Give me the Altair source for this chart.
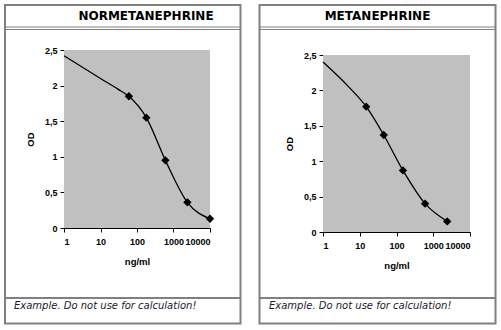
import altair as alt
import pandas as pd

# ---- data ----
norm_conc = [60, 180, 600, 2400, 10000]
norm_od = [1.85, 1.55, 0.95, 0.36, 0.13]
norm_curve_conc = [1, 10, 30, 60, 180, 600, 2400, 10000]
norm_curve_od = [2.42, 2.10, 1.95, 1.85, 1.55, 0.95, 0.36, 0.13]

meta_conc = [15, 45, 150, 600, 2400]
meta_od = [1.77, 1.37, 0.87, 0.40, 0.15]
meta_curve_conc = [1, 5, 15, 45, 150, 600, 2400]
meta_curve_od = [2.40, 2.05, 1.77, 1.37, 0.87, 0.40, 0.15]

x_ticks = [1, 10, 100, 1000, 10000]
y_ticks = [0, 0.5, 1, 1.5, 2, 2.5]
titles = ["NORMETANEPHRINE", "METANEPHRINE"]
footer = "Example. Do not use for calculation!"

AXFONT = "Arial"
BORDER = "#808080"


def panel(conc, od, cconc, cod, title, w, h, yrange, frame, title_x, foot_x, canvas=False):
    pts = pd.DataFrame({"conc": conc, "od": od})
    cur = pd.DataFrame({"conc": cconc, "od": cod})
    one = pd.DataFrame({"a": [0]})
    xs = alt.Scale(type="log", domain=[1, 10000])
    ys = alt.Scale(domain=[0, 2.5], range=yrange)
    xax = alt.Axis(values=x_ticks, format="d", title="ng/ml", titlePadding=10, labelPadding=5,
                   labelOverlap=False, labelBound=False)
    yax = alt.Axis(values=y_ticks, labelExpr="replace(toString(datum.value), '.', ',')",
                   title="OD", titlePadding=9, labelPadding=3, labelOverlap=False)

    bg = alt.Chart(one).mark_rect(color="#c0c0c0").encode(
        x=alt.datum(1, type="quantitative", scale=xs, axis=xax),
        x2=alt.datum(10000),
        y=alt.datum(0, type="quantitative", scale=ys, axis=yax),
        y2=alt.datum(2.5),
    )
    line = alt.Chart(cur).mark_line(color="black", strokeWidth=1.3, interpolate="monotone").encode(
        x=alt.X("conc:Q", scale=xs, axis=xax),
        y=alt.Y("od:Q", scale=ys, axis=yax),
    )
    dots = alt.Chart(pts).mark_point(shape="diamond", filled=True, color="black", size=70, opacity=1).encode(
        x=alt.X("conc:Q", scale=xs, axis=xax),
        y=alt.Y("od:Q", scale=ys, axis=yax),
    )
    fl, fr, ft, fb, sep1, sep2, fsep = frame
    outer = alt.Chart(one).mark_rect(fillOpacity=0, stroke=BORDER, strokeWidth=2).encode(
        x=alt.value(fl), x2=alt.value(fr), y=alt.value(ft), y2=alt.value(fb))
    s1 = alt.Chart(one).mark_rule(color=BORDER, strokeWidth=1).encode(
        x=alt.value(fl), x2=alt.value(fr), y=alt.value(sep1))
    s2 = alt.Chart(one).mark_rule(color=BORDER, strokeWidth=1).encode(
        x=alt.value(fl), x2=alt.value(fr), y=alt.value(sep2))
    s3 = alt.Chart(one).mark_rule(color=BORDER, strokeWidth=2).encode(
        x=alt.value(fl), x2=alt.value(fr), y=alt.value(fsep))
    ttl = alt.Chart(one).mark_text(font="DejaVu Sans", fontWeight="bold", fontSize=12,
                                   align="center", baseline="middle", color="black").encode(
        x=alt.value(title_x), y=alt.value(-34), text=alt.value(title))
    ft_ = alt.Chart(one).mark_text(font="DejaVu Sans", fontStyle="italic", fontSize=10,
                                   align="left", baseline="middle", color="#1a1a2e").encode(
        x=alt.value(foot_x), y=alt.value(256), text=alt.value(footer))
    layers = [bg, line, dots, outer, s1, s2, s3, ttl, ft_]
    if canvas:
        cv = alt.Chart(one).mark_rect(opacity=0).encode(
            x=alt.value(-64), x2=alt.value(437), y=alt.value(-50), y2=alt.value(280))
        layers.append(cv)
    return alt.layer(*layers).properties(width=w, height=h)


left = panel(norm_conc, norm_od, norm_curve_conc, norm_curve_od, titles[0], 146, 178, [178, 0],
             (-59, 176.5, -45, 273.5, -23, -20.5, 248), 82, -50, canvas=True)
right = panel(meta_conc, meta_od, meta_curve_conc, meta_curve_od, titles[1], 147, 182, [182, 5],
              (-63.5, 172.5, -45, 273.5, -23, -20.5, 248), 54.5, -54)

chart = alt.hconcat(left, right, spacing=113, bounds="flush").properties(
    padding=0, background="white"
).configure_view(stroke=None, fill=None).configure_axis(
    grid=False, domainColor="black", tickColor="black", tickSize=4, domainWidth=1,
    labelFont=AXFONT, labelFontWeight="bold", labelFontSize=9, labelColor="black",
    titleFont=AXFONT, titleFontWeight="bold", titleFontSize=9.5, titleColor="black",
)

chart.save("out.html", embed_options={"renderer": "svg", "actions": False})
